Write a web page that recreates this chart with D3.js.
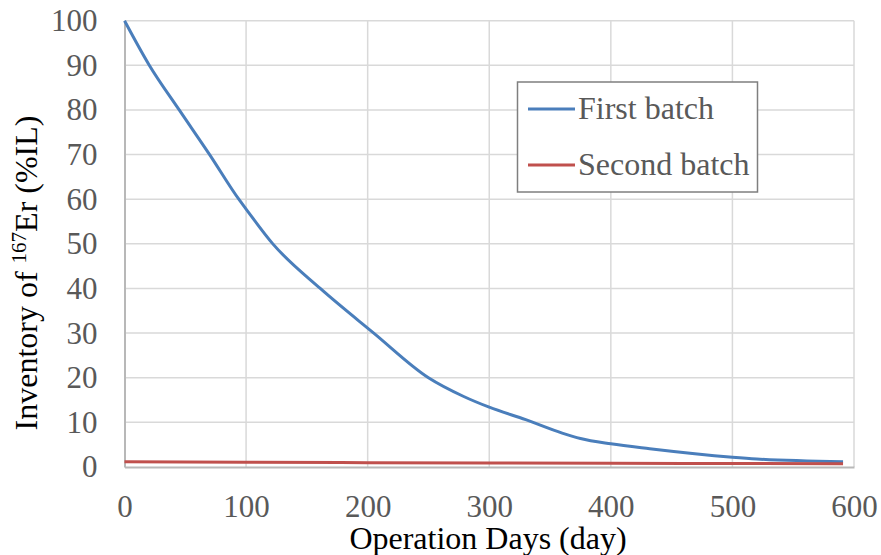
<!DOCTYPE html>
<html>
<head>
<meta charset="utf-8">
<script src="https://cdn.jsdelivr.net/npm/d3@7"></script>
<style>
  html, body { margin: 0; padding: 0; background: #ffffff; }
  svg { display: block; }
  text { font-family: "Liberation Serif", "Times New Roman", serif; }
</style>
</head>
<body>
<svg id="chart" width="881" height="555"></svg>
<script>
// Operation days and 167Er inventory (% of initial loading) for each batch
const firstDays = [0, 20, 45, 70, 94, 100, 122, 161, 205, 250, 279, 300, 330, 360, 375, 400, 432, 500, 520, 591];
const firstInv  = [100, 90.2, 80, 70, 60, 57.8, 50, 40, 30, 20, 15.8, 13.4, 10.6, 7.6, 6.4, 5.2, 4.1, 2.2, 1.8, 1.2];
const secondDays = [0, 100, 200, 300, 400, 500, 591];
const secondInv  = [1.2, 1.05, 0.97, 0.9, 0.82, 0.78, 0.75];

const xTicks = [0, 100, 200, 300, 400, 500, 600];
const yTicks = [0, 10, 20, 30, 40, 50, 60, 70, 80, 90, 100];

const seriesNames = ["First batch", "Second batch"];
const seriesColors = ["#4a7ebb", "#c0504d"];

const svg = d3.select("#chart");
const margin = { left: 124.5, right: 27, top: 20.7, bottom: 88 };
const W = 881, H = 555;

const x = d3.scaleLinear().domain([0, 600]).range([margin.left, W - margin.right]);
const y = d3.scaleLinear().domain([0, 100]).range([H - margin.bottom, margin.top]);

// gridlines
const grid = svg.append("g");
grid.selectAll("line.h").data(yTicks.filter(d => d > 0)).enter().append("line")
  .attr("x1", x(0)).attr("x2", x(600))
  .attr("y1", d => y(d)).attr("y2", d => y(d))
  .attr("stroke", "#d9d9d9").attr("stroke-width", 1.5);
grid.selectAll("line.v").data(xTicks.filter(d => d > 0)).enter().append("line")
  .attr("y1", y(0)).attr("y2", y(100))
  .attr("x1", d => x(d)).attr("x2", d => x(d))
  .attr("stroke", "#d9d9d9").attr("stroke-width", 1.5);

// axes
const xAxis = d3.axisBottom(x).tickValues(xTicks).tickSize(0).tickPadding(28);
const yAxis = d3.axisLeft(y).tickValues(yTicks).tickSize(0).tickPadding(27);

const gx = svg.append("g").attr("transform", `translate(0,${y(0)})`).call(xAxis);
const gy = svg.append("g").attr("transform", `translate(${x(0)},0)`).call(yAxis);
[gx, gy].forEach(g => {
  g.select(".domain").attr("stroke", "#b8b8b8").attr("stroke-width", 2);
  g.selectAll("text").attr("font-family", "Liberation Serif, serif")
    .attr("font-size", 31).attr("fill", "#595959");
});

// series lines
const line = d3.line().x(d => x(d[0])).y(d => y(d[1])).curve(d3.curveMonotoneX);
const series = [
  d3.zip(firstDays, firstInv),
  d3.zip(secondDays, secondInv)
];
series.forEach((s, i) => {
  svg.append("path").datum(s)
    .attr("d", line)
    .attr("fill", "none")
    .attr("stroke", seriesColors[i])
    .attr("stroke-width", 3)
    .attr("stroke-linejoin", "round")
    .attr("stroke-linecap", "butt");
});

// axis titles
svg.append("text")
  .attr("x", 488).attr("y", 549)
  .attr("text-anchor", "middle")
  .attr("font-size", 32).attr("fill", "#000")
  .text("Operation Days (day)");

const yt = svg.append("text")
  .attr("transform", "translate(37,273) rotate(-90)")
  .attr("text-anchor", "middle")
  .attr("font-size", 32).attr("fill", "#000");
yt.append("tspan").text("Inventory of ");
yt.append("tspan").attr("font-size", 21).attr("dy", -11).text("167");
yt.append("tspan").attr("dy", 11).text("Er (%IL)");

// legend
const lg = svg.append("g");
lg.append("rect")
  .attr("x", 517.5).attr("y", 82).attr("width", 240).attr("height", 110)
  .attr("fill", "#ffffff").attr("stroke", "#7f7f7f").attr("stroke-width", 1.5);
seriesNames.forEach((n, i) => {
  const cy = 109 + i * 56;
  lg.append("line")
    .attr("x1", 528).attr("x2", 575).attr("y1", cy).attr("y2", cy)
    .attr("stroke", seriesColors[i]).attr("stroke-width", 3);
  lg.append("text")
    .attr("x", 578).attr("y", cy + 10)
    .attr("font-size", 32).attr("fill", "#595959")
    .text(n);
});
</script>
</body>
</html>
